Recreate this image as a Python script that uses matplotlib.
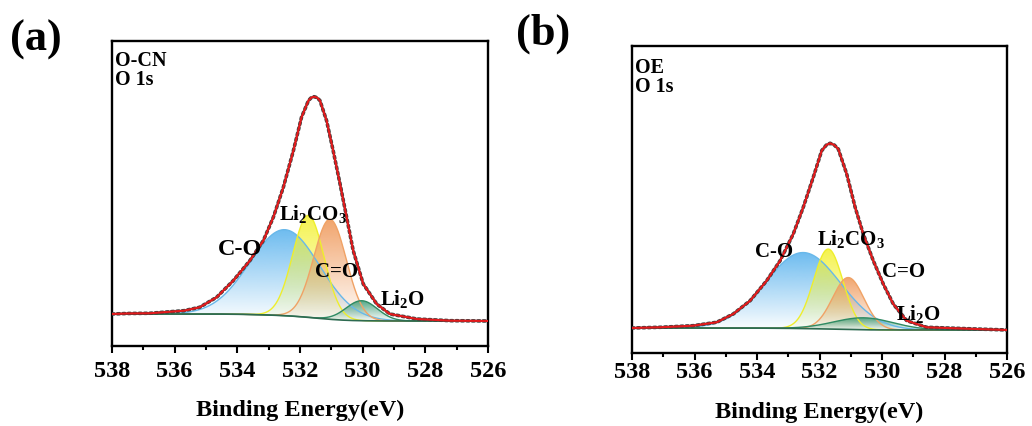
import numpy as np
import matplotlib
matplotlib.use('Agg')
import matplotlib.pyplot as plt
import matplotlib.colors as mcolors
from matplotlib.ticker import MultipleLocator

plt.rcParams['font.family'] = 'Liberation Serif'
plt.rcParams['font.weight'] = 'bold'
plt.rcParams['mathtext.default'] = 'regular'

# O 1s spectra (intensity in arbitrary units)
# panel (a) O-CN
env_a_ev = [538, 537.5, 536.8, 535.7, 535.2, 534.66, 534.13, 533.6, 533.17, 532.85,
            532.53, 532.21, 531.95, 531.73, 531.64, 531.55, 531.45, 531.36, 531.15,
            530.94, 530.72, 530.51, 530.3, 529.98, 529.55, 529.13, 528.27, 527.2, 526]
env_a = [32, 32.5, 32.7, 35.3, 38.7, 48.7, 65.3, 85.3, 105.3, 128.7,
         158.7, 195.3, 228.7, 245.3, 248.3, 249.3, 248.3, 245.3, 225.3,
         195.3, 162, 128.7, 95.3, 62, 42, 32, 27, 25.3, 25]
# peaks: C-O, Li2CO3, C=O, Li2O
pk_a_center = [532.48, 531.73, 531.04, 530.03]
pk_a_height = [86, 102, 100, 20]
pk_a_sigma = [1.12, 0.5, 0.52, 0.5]
bg_a = [32, 25]  # high-BE side, low-BE side

# panel (b) OE
env_b_ev = [538, 537.1, 536.04, 535.29, 534.76, 534.22, 533.69, 533.26, 532.84, 532.52,
            532.2, 531.93, 531.78, 531.66, 531.53, 531.4, 531.13, 530.86, 530.6,
            530.28, 529.96, 529.64, 529.21, 528.57, 527.0, 526]
env_b = [25, 25.7, 27.3, 30.7, 39, 52.3, 72.3, 92.3, 119, 145.7,
         175.7, 202.3, 208, 209.7, 208, 204, 179, 145.7, 119,
         92.3, 69, 49, 32.3, 25.7, 24, 23]
pk_b_center = [532.52, 531.72, 531.08, 530.6]
pk_b_height = [76, 80, 52, 12]
pk_b_sigma = [1.2, 0.47, 0.5, 0.95]
bg_b = [25, 23]

pk_colors = ['#5db4ee', '#f4f23a', '#f09a5c', '#3e9c76']
pk_lines = ['#68b8ea', '#eeee2c', '#f0a265', '#2e8a62']


def grad_fill(ax, x, y0, y1, color, z):
    poly, = ax.fill(np.r_[x, x[::-1]], np.r_[y1, y0[::-1]],
                    facecolor='none', edgecolor='none')
    img = np.zeros((256, 1, 4))
    img[:, :, :3] = mcolors.to_rgb(color)
    img[:, 0, 3] = np.linspace(0.02, 0.9, 256)
    im = ax.imshow(img, aspect='auto', origin='lower', zorder=z,
                   extent=[x.min(), x.max(), y0.min(), y1.max()])
    im.set_clip_path(poly)


def panel(ax, ev, env, cen, hgt, sig, bg, ymax, tpad):
    x = np.linspace(538, 526, 1201)
    comps = [h * np.exp(-(x - c) ** 2 / (2 * s ** 2)) for c, h, s in zip(cen, hgt, sig)]
    tot = np.sum(comps, axis=0)
    cum = np.cumsum(tot[::-1])[::-1]
    base = bg[1] + (bg[0] - bg[1]) * cum / cum[0]

    for i, comp in enumerate(comps):
        grad_fill(ax, x, base, base + comp, pk_colors[i], 2 + i)
        ax.plot(x, base + comp, color=pk_lines[i], lw=1.0, zorder=6)
    ax.plot(x, base, color='#2d6a50', lw=1.2, zorder=6)

    ax.plot(ev, env, color='#404040', lw=2.6, ls=(0, (0.6, 0.9)),
            dash_capstyle='round', zorder=7)
    ax.plot(ev, env, color='#e41a1c', lw=1.5, zorder=8)

    ax.set_xlim(538, 526)
    ax.set_ylim(0, ymax)
    ax.xaxis.set_major_locator(MultipleLocator(2))
    ax.xaxis.set_minor_locator(MultipleLocator(1))
    ax.tick_params(axis='x', which='major', direction='out', length=5, width=1.5,
                   labelsize=17.5, pad=tpad)
    ax.tick_params(axis='x', which='minor', direction='out', length=3, width=1.5)
    ax.set_yticks([])
    for sp in ax.spines.values():
        sp.set_linewidth(1.7)
    ax.set_xlabel('Binding Energy(eV)', fontsize=17.5, fontweight='bold', labelpad=13)


fig = plt.figure(figsize=(10.32, 4.27), dpi=100)
ax1 = fig.add_axes([0.1085, 0.1874, 0.3643, 0.7143])
ax2 = fig.add_axes([0.6124, 0.1710, 0.3634, 0.7190])

panel(ax1, env_a_ev, env_a, pk_a_center, pk_a_height, pk_a_sigma, bg_a, 305, 5)
panel(ax2, env_b_ev, env_b, pk_b_center, pk_b_height, pk_b_sigma, bg_b, 307, 1)

fs = 15
ax1.text(0.008, 0.97, 'O-CN\nO 1s', transform=ax1.transAxes, fontsize=14.5,
         va='top', ha='left', linespacing=0.95)
ax1.text(533.91, 97, 'C-O', fontsize=17.5, ha='center', va='center', zorder=10)
ax1.text(531.58, 127, 'Li$_2$CO$_3$', fontsize=fs, ha='center', va='baseline', zorder=10)
ax1.text(530.82, 75, 'C=O', fontsize=fs, ha='center', va='center', zorder=10)
ax1.text(528.74, 42, 'Li$_2$O', fontsize=fs, ha='center', va='baseline', zorder=10)

ax2.text(0.008, 0.965, 'OE\nO 1s', transform=ax2.transAxes, fontsize=14.5,
         va='top', ha='left', linespacing=0.95)
ax2.text(533.46, 102, 'C-O', fontsize=fs, ha='center', va='center', zorder=10)
ax2.text(530.98, 109, 'Li$_2$CO$_3$', fontsize=fs, ha='center', va='baseline', zorder=10)
ax2.text(529.31, 82, 'C=O', fontsize=fs, ha='center', va='center', zorder=10)
ax2.text(528.83, 34, 'Li$_2$O', fontsize=fs, ha='center', va='baseline', zorder=10)

fig.text(36 / 1032, 1 - 40 / 427, '(a)', fontsize=32, fontweight='bold',
         ha='center', va='center')
fig.text(543 / 1032, 1 - 34 / 427, '(b)', fontsize=32, fontweight='bold',
         ha='center', va='center')

fig.savefig('out.png', dpi=100)
